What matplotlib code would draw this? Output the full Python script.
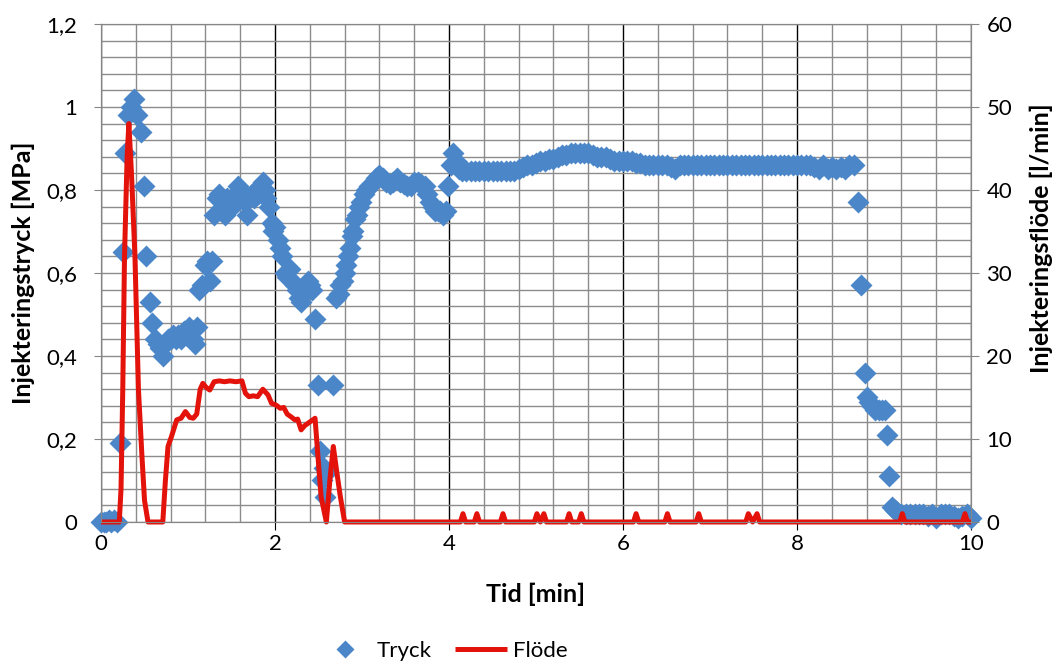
import matplotlib
matplotlib.use("Agg")
import matplotlib.pyplot as plt
from matplotlib.ticker import MultipleLocator, FuncFormatter

plt.rcParams['font.family'] = ['Lato', 'DejaVu Sans']

# Tryck (MPa) mot tid (min)
tid_tryck = [
    0.00, 0.03, 0.06, 0.09, 0.12, 0.15, 0.18,
    0.22, 0.25, 0.28, 0.31, 0.35, 0.38, 0.41, 0.46, 0.49, 0.52, 0.56, 0.59,
    0.62, 0.65, 0.68, 0.71, 0.74, 0.77, 0.80, 0.83, 0.86, 0.89, 0.92, 0.95,
    0.98, 1.01, 1.04, 1.06, 1.08, 1.10, 1.13, 1.16, 1.19, 1.22, 1.25, 1.28,
    1.30, 1.33, 1.36, 1.38, 1.40, 1.43, 1.45, 1.48, 1.50, 1.53, 1.55, 1.58,
    1.60, 1.62, 1.65, 1.68, 1.70, 1.73, 1.76, 1.80, 1.83, 1.86, 1.88, 1.90,
    1.93, 1.96, 1.98, 2.00, 2.03, 2.06, 2.08, 2.11, 2.14, 2.17, 2.20, 2.23,
    2.25, 2.27, 2.30, 2.32, 2.35, 2.38, 2.40, 2.43, 2.46, 2.49, 2.52, 2.54,
    2.56, 2.58, 2.60, 2.67, 2.70, 2.73, 2.75, 2.78, 2.80, 2.82, 2.84, 2.86,
    2.88, 2.90, 2.92, 2.94, 2.96, 2.99, 3.02, 3.05, 3.08, 3.12, 3.16, 3.20,
    3.24, 3.28, 3.32, 3.36, 3.40, 3.44, 3.48, 3.52, 3.56, 3.60, 3.64, 3.68,
    3.72, 3.75, 3.78, 3.81, 3.84, 3.87, 3.90, 3.93, 3.96, 3.99, 4.02, 4.05,
    4.08, 4.11,
    4.15, 4.20, 4.25, 4.30, 4.35, 4.40, 4.45, 4.50, 4.55, 4.60, 4.65, 4.70,
    4.75, 4.80, 4.85, 4.90, 4.95, 5.00, 5.05, 5.10, 5.15, 5.20, 5.25, 5.30,
    5.35, 5.40, 5.45, 5.50, 5.55, 5.60, 5.65, 5.70, 5.75, 5.80, 5.85, 5.90,
    5.95, 6.00, 6.05, 6.10, 6.15, 6.20, 6.25, 6.30, 6.35, 6.40, 6.45, 6.50,
    6.55, 6.60, 6.65, 6.70, 6.75, 6.80, 6.85, 6.90, 6.95, 7.00, 7.05, 7.10,
    7.15, 7.20, 7.25, 7.30, 7.35, 7.40, 7.45, 7.50, 7.55, 7.60, 7.65, 7.70,
    7.75, 7.80, 7.85, 7.90, 7.95, 8.00, 8.05, 8.10, 8.15, 8.20, 8.25, 8.30,
    8.35, 8.40, 8.45, 8.50, 8.55, 8.60, 8.65,
    8.70, 8.74, 8.78, 8.80, 8.83, 8.86, 8.90, 8.94, 8.98, 9.01, 9.03, 9.06,
    9.09, 9.12, 9.15, 9.20, 9.25, 9.30, 9.35, 9.40, 9.45, 9.50, 9.55, 9.60,
    9.65, 9.70, 9.75, 9.80, 9.85, 9.90, 9.95, 10.00,
]
tryck = [
    0.000, 0.000, 0.000, 0.005, 0.000, 0.005, 0.000,
    0.190, 0.650, 0.890, 0.980, 1.000, 1.020, 0.980, 0.940, 0.810, 0.640, 0.530, 0.480,
    0.440, 0.430, 0.420, 0.400, 0.430, 0.440, 0.440, 0.450, 0.440, 0.450, 0.440, 0.460,
    0.450, 0.470, 0.460, 0.440, 0.430, 0.470, 0.560, 0.570, 0.620, 0.630, 0.580, 0.630,
    0.740, 0.780, 0.790, 0.750, 0.770, 0.740, 0.780, 0.770, 0.760, 0.780, 0.790, 0.810,
    0.800, 0.780, 0.770, 0.740, 0.780, 0.790, 0.780, 0.790, 0.810, 0.820, 0.800, 0.780,
    0.760, 0.720, 0.700, 0.710, 0.680, 0.660, 0.640, 0.600, 0.590, 0.610, 0.580, 0.570,
    0.560, 0.540, 0.530, 0.550, 0.570, 0.580, 0.570, 0.560, 0.490, 0.330, 0.170, 0.100,
    0.130, 0.060, 0.120, 0.330, 0.540, 0.550, 0.570, 0.580, 0.600, 0.620, 0.640, 0.660,
    0.690, 0.700, 0.730, 0.740, 0.760, 0.770, 0.790, 0.800, 0.810, 0.815, 0.830, 0.835,
    0.830, 0.820, 0.815, 0.820, 0.830, 0.820, 0.815, 0.810, 0.810, 0.820, 0.820, 0.815,
    0.810, 0.790, 0.770, 0.760, 0.750, 0.750, 0.750, 0.740, 0.750, 0.810, 0.860, 0.890,
    0.870, 0.850,
    0.845, 0.845, 0.845, 0.845, 0.845, 0.845, 0.845, 0.845, 0.845, 0.845, 0.845, 0.845,
    0.845, 0.850, 0.855, 0.860, 0.860, 0.865, 0.870, 0.870, 0.875, 0.875, 0.880, 0.885,
    0.885, 0.890, 0.890, 0.890, 0.890, 0.890, 0.885, 0.880, 0.880, 0.880, 0.875, 0.870,
    0.870, 0.870, 0.870, 0.870, 0.865, 0.865, 0.860, 0.860, 0.860, 0.860, 0.860, 0.860,
    0.855, 0.850, 0.860, 0.860, 0.860, 0.860, 0.860, 0.860, 0.860, 0.860, 0.860, 0.860,
    0.860, 0.860, 0.860, 0.860, 0.860, 0.860, 0.860, 0.860, 0.860, 0.860, 0.860, 0.860,
    0.860, 0.860, 0.860, 0.860, 0.860, 0.860, 0.860, 0.860, 0.860, 0.855, 0.850, 0.860,
    0.850, 0.855, 0.850, 0.855, 0.850, 0.860, 0.860,
    0.770, 0.570, 0.360, 0.300, 0.290, 0.280, 0.270, 0.270, 0.270, 0.270, 0.210, 0.110,
    0.035, 0.030, 0.025, 0.020, 0.020, 0.020, 0.020, 0.020, 0.020, 0.015, 0.020, 0.010,
    0.020, 0.020, 0.020, 0.015, 0.010, 0.015, 0.020, 0.010,
]

# Flöde (l/min) mot tid (min)
tid_flode = [
    0.00, 0.21, 0.23, 0.25, 0.27, 0.30, 0.32, 0.35, 0.39, 0.43, 0.47, 0.50,
    0.54, 0.71, 0.74, 0.77, 0.81, 0.87, 0.92, 0.97, 1.02, 1.06, 1.10, 1.14,
    1.17, 1.21, 1.25, 1.30, 1.36, 1.42, 1.48, 1.55, 1.62, 1.66, 1.70, 1.75,
    1.80, 1.86, 1.92, 1.96, 2.01, 2.06, 2.10, 2.14, 2.18, 2.23, 2.26, 2.30,
    2.34, 2.38, 2.42, 2.46, 2.50, 2.53, 2.59, 2.63, 2.67, 2.71, 2.75, 2.80,
    4.13, 4.16, 4.19, 4.29, 4.32, 4.35, 4.59, 4.62, 4.65, 4.98, 5.01, 5.05,
    5.09, 5.12, 5.35, 5.38, 5.41, 5.49, 5.52, 5.55, 6.12, 6.15, 6.18, 6.48,
    6.51, 6.54, 6.84, 6.87, 6.90, 7.41, 7.44, 7.49, 7.54, 7.57, 9.18, 9.21,
    9.24, 9.90, 9.93, 9.96, 10.00,
]
flode = [
    0.0, 0.0, 4.0, 16.0, 32.0, 44.0, 48.0, 42.0, 32.0, 16.0, 8.0, 2.6,
    0.0, 0.0, 5.0, 9.1, 10.3, 12.3, 12.5, 13.3, 12.6, 12.5, 13.0, 16.0,
    16.7, 16.2, 15.9, 16.9, 17.0, 16.9, 17.0, 16.9, 17.0, 15.5, 15.1, 15.2,
    15.1, 16.0, 15.3, 14.3, 14.1, 13.7, 13.8, 13.0, 12.7, 12.3, 12.4, 11.1,
    11.6, 11.9, 12.2, 12.5, 7.0, 3.0, 0.0, 5.0, 9.1, 6.0, 3.1, 0.0,
    0.0, 1.0, 0.0, 0.0, 1.0, 0.0, 0.0, 1.0, 0.0, 0.0, 1.0, 0.0,
    1.0, 0.0, 0.0, 1.0, 0.0, 0.0, 1.0, 0.0, 0.0, 1.0, 0.0, 0.0,
    1.0, 0.0, 0.0, 1.0, 0.0, 0.0, 1.0, 0.0, 1.0, 0.0, 0.0, 1.0,
    0.0, 0.0, 1.0, 0.0, 0.0,
]

blue = '#4a86c8'
red = '#e3120b'
grid_gray = '#8c8c8c'
spine_gray = '#868686'

fig = plt.figure(figsize=(10.6, 6.61), dpi=100)
ax = fig.add_axes([0.0953, 0.2103, 0.8208, 0.7534])

ax.set_xlim(0, 10)
ax.set_ylim(0, 1.2)
ax.xaxis.set_major_locator(MultipleLocator(2))
ax.xaxis.set_minor_locator(MultipleLocator(0.4))
ax.yaxis.set_major_locator(MultipleLocator(0.2))
ax.yaxis.set_minor_locator(MultipleLocator(0.04))

comma = FuncFormatter(lambda v, p: ('%g' % round(v, 2)).replace('.', ','))
ax.yaxis.set_major_formatter(comma)
ax.xaxis.set_major_formatter(comma)

ax.grid(which='minor', color=grid_gray, lw=1.0)
ax.grid(which='major', axis='y', color=grid_gray, lw=1.0)
ax.grid(which='major', axis='x', color='black', lw=1.0)
ax.set_axisbelow(True)

ax.tick_params(which='minor', length=0)
ax.tick_params(axis='y', which='major', direction='out', length=5, color=spine_gray,
               labelsize=16, pad=12)
ax.tick_params(axis='x', which='major', direction='out', length=6, color='black',
               labelsize=16, pad=3)
for s in ax.spines.values():
    s.set_color(spine_gray)

ax.plot(tid_tryck, tryck, 'D', ls='none', ms=11.5, color=blue, mec='none',
        clip_on=False, zorder=3, label='Tryck')

ax.set_xlabel('Tid [min]', fontsize=18, fontweight='bold', labelpad=20)
ax.set_ylabel('Injekteringstryck [MPa]', fontsize=18, fontweight='bold')
ax.yaxis.set_label_coords(-0.076, 0.5)

ax2 = ax.twinx()
ax2.set_ylim(0, 60)
ax2.yaxis.set_major_locator(MultipleLocator(10))
ax2.tick_params(axis='y', direction='out', length=6, color=spine_gray, labelsize=16, pad=5)
for s in ax2.spines.values():
    s.set_color(spine_gray)
ax2.plot(tid_flode, flode, color=red, lw=3.6, solid_joinstyle='round',
         solid_capstyle='butt', clip_on=False, label='Flöde')
ax2.set_ylabel('Injekteringsflöde [l/min]', fontsize=18, fontweight='bold')
ax2.yaxis.set_label_coords(1.067, 0.57)

h1, l1 = ax.get_legend_handles_labels()
h2, l2 = ax2.get_legend_handles_labels()
fig.legend(h1 + h2, l1 + l2, loc='lower center', bbox_to_anchor=(0.418, -0.03),
           ncol=2, frameon=False, fontsize=16, handlelength=2.35,
           handletextpad=0.25, columnspacing=1.05, markerscale=0.8)

fig.savefig('out.png', dpi=100)
